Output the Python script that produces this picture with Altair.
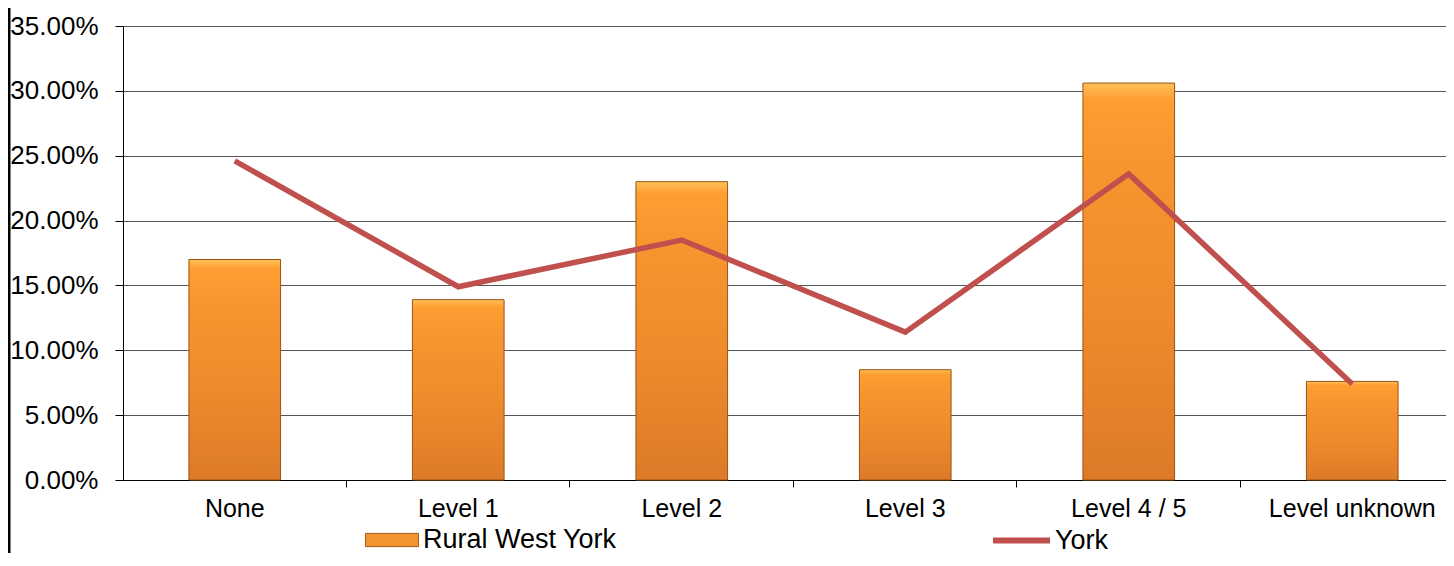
import altair as alt
import pandas as pd

categories = ["None", "Level 1", "Level 2", "Level 3", "Level 4 / 5", "Level unknown"]
rural_west_york = [0.170, 0.139, 0.230, 0.085, 0.306, 0.076]
york = [0.246, 0.149, 0.185, 0.114, 0.236, 0.074]
y_ticks = [0.0, 0.05, 0.10, 0.15, 0.20, 0.25, 0.30, 0.35]

df = pd.DataFrame({"cat": categories, "rural": rural_west_york, "york": york})

FONT = "Liberation Sans"
W = 1323
H = 454

xscale = alt.Scale(paddingInner=0.59, paddingOuter=0.295, range=[0, 1341])
yscale = alt.Scale(domain=[0, 0.35], nice=False)

base = alt.Chart(df)

bars_legend = base.mark_bar().encode(
    x=alt.X("cat:N", sort=categories, scale=xscale, title=None,
            axis=alt.Axis(orient="bottom", labelAngle=0, labelFont=FONT, labelFontSize=25,
                          labelColor="#000", ticks=False, domain=False, labelPadding=16,
                          grid=False)),
    y=alt.Y("rural:Q", scale=yscale, title=None,
            axis=alt.Axis(values=y_ticks, format=".2%", labelFont=FONT, labelFontSize=26,
                          labelColor="#000", tickSize=8, tickColor="#000", domainColor="#000",
                          gridColor="#555", labelPadding=17)),
    fill=alt.Fill("s:N", scale=alt.Scale(domain=["Rural West York"], range=["#F29430"]),
                  legend=alt.Legend(title=None, orient="none", legendX=242, legendY=487,
                                    symbolType="M-1,-0.25H1V0.25H-1Z", symbolSize=2809,
                                    symbolStrokeColor="#A35A1A", symbolStrokeWidth=1,
                                    labelFont=FONT, labelFontSize=27, labelColor="#000",
                                    labelOffset=4, labelLimit=400, padding=0)),
).transform_calculate(s="'Rural West York'")

grad = alt.Gradient(
    gradient="linear",
    stops=[alt.GradientStop(color="#FFC35A", offset=0),
           alt.GradientStop(color="#FF9E33", offset=0.04),
           alt.GradientStop(color="#F7952F", offset=0.2),
           alt.GradientStop(color="#EE8A2C", offset=0.6),
           alt.GradientStop(color="#DD7A28", offset=1)],
    x1=0, x2=0, y1=0, y2=1,
)

bars = base.mark_bar(fill=grad, stroke="#9A5518", strokeWidth=1).encode(
    x=alt.X("cat:N", sort=categories, scale=xscale, title=None,
            axis=alt.Axis(orient="bottom", labels=False, ticks=True, tickSize=7,
                          tickColor="#000", domainColor="#000", bandPosition=1.7147,
                          grid=False)),
    y=alt.Y("rural:Q", scale=yscale, title=None),
)

line = base.mark_line(strokeWidth=5.5).encode(
    x=alt.X("cat:N", sort=categories, scale=xscale, axis=None),
    y=alt.Y("york:Q", scale=yscale, title=None),
    stroke=alt.Stroke("t:N", scale=alt.Scale(domain=["York"], range=["#C0504D"]),
                      legend=alt.Legend(title=None, orient="none", legendX=867, legendY=483,
                                        symbolType="stroke", symbolSize=3249,
                                        symbolStrokeWidth=6, labelFont=FONT, labelFontSize=27,
                                        labelColor="#000", labelOffset=2, labelLimit=200,
                                        padding=0)),
).transform_calculate(t="'York'")

border = alt.Chart(alt.Data(values=[{}])).mark_rule(color="#000", strokeWidth=3).encode(
    x=alt.value(-114), y=alt.value(-20), y2=alt.value(600)
)

chart = alt.layer(bars_legend, bars, line, border).resolve_axis(x="independent").properties(
    width=W, height=H,
    autosize=alt.AutoSizeParams(type="none"),
    padding={"left": 115, "top": 18, "right": 0, "bottom": 73},
).configure_view(stroke=None).configure_axis(domainWidth=1, gridWidth=1)

chart.save("out.html", embed_options={"renderer": "svg", "actions": False})
